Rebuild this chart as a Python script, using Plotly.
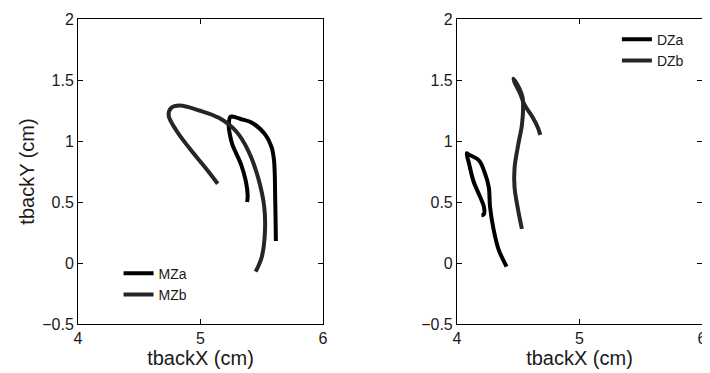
import plotly.graph_objects as go

# Left panel data (cm)
mza_x = [5.615, 5.61, 5.60, 5.58, 5.53, 5.42, 5.33, 5.26, 5.245, 5.23, 5.24, 5.26, 5.33, 5.37, 5.385, 5.38]
mza_y = [0.18, 0.50, 0.84, 0.95, 1.05, 1.15, 1.18, 1.20, 1.20, 1.13, 1.05, 0.97, 0.81, 0.67, 0.55, 0.50]
mzb_x = [5.14, 5.04, 4.91, 4.80, 4.74, 4.76, 4.83, 4.99, 5.15, 5.29, 5.39, 5.47, 5.52, 5.525, 5.50, 5.45]
mzb_y = [0.65, 0.78, 0.94, 1.09, 1.21, 1.27, 1.29, 1.25, 1.19, 1.08, 0.92, 0.70, 0.46, 0.24, 0.05, -0.07]

# Right panel data (cm)
dza_x = [4.405, 4.34, 4.30, 4.27, 4.26, 4.23, 4.18, 4.095, 4.08, 4.10, 4.135, 4.19, 4.22, 4.22, 4.20]
dza_y = [-0.03, 0.11, 0.27, 0.46, 0.62, 0.73, 0.84, 0.89, 0.90, 0.81, 0.67, 0.54, 0.46, 0.40, 0.39]
dzb_x = [4.53, 4.50, 4.47, 4.47, 4.50, 4.53, 4.54, 4.535, 4.505, 4.46, 4.475, 4.515, 4.55, 4.62, 4.66, 4.68]
dzb_y = [0.28, 0.43, 0.62, 0.78, 0.97, 1.13, 1.27, 1.36, 1.44, 1.51, 1.47, 1.39, 1.30, 1.19, 1.11, 1.05]

x_ticks = [4, 5, 6]
y_ticks = [-0.5, 0, 0.5, 1, 1.5, 2]

FONT = "Liberation Sans, Arial, Helvetica, sans-serif"
TXT = "#1a1a1a"
C_A = "#000000"
C_B = "#262626"
LW = 4

fig = go.Figure()
fig.add_trace(go.Scatter(x=mza_x, y=mza_y, mode="lines", name="MZa",
                         line=dict(color=C_A, width=LW, shape="spline"),
                         xaxis="x", yaxis="y", legend="legend"))
fig.add_trace(go.Scatter(x=mzb_x, y=mzb_y, mode="lines", name="MZb",
                         line=dict(color=C_B, width=LW, shape="spline"),
                         xaxis="x", yaxis="y", legend="legend"))
fig.add_trace(go.Scatter(x=dza_x, y=dza_y, mode="lines", name="DZa",
                         line=dict(color=C_A, width=LW, shape="spline"),
                         xaxis="x2", yaxis="y2", legend="legend2"))
fig.add_trace(go.Scatter(x=dzb_x, y=dzb_y, mode="lines", name="DZb",
                         line=dict(color=C_B, width=LW, shape="spline"),
                         xaxis="x2", yaxis="y2", legend="legend2"))

ax_common = dict(showline=True, linecolor="black", linewidth=1, mirror="ticks",
                 ticks="inside", ticklen=5, tickcolor="black", showgrid=False,
                 zeroline=False, tickfont=dict(size=16, color=TXT),
                 ticklabeloverflow="allow")

# The page body has an 8px default margin, so the figure is sized to fit.
fig.update_layout(
    width=702, height=365,
    margin=dict(l=70, r=3, t=8, b=49),
    paper_bgcolor="white", plot_bgcolor="white",
    font=dict(family=FONT, color=TXT),
    xaxis=dict(domain=[0, 0.3927], range=[4, 6], tickvals=x_ticks,
               title=dict(text="tbackX (cm)", font=dict(size=20), standoff=3), **ax_common),
    yaxis=dict(domain=[0, 1], range=[-0.5, 2], tickvals=y_ticks,
               title=dict(text="tbackY (cm)", font=dict(size=20), standoff=2), **ax_common),
    xaxis2=dict(domain=[0.6073, 1], range=[4, 6], tickvals=x_ticks, anchor="y2",
                title=dict(text="tbackX (cm)", font=dict(size=20), standoff=3), **ax_common),
    yaxis2=dict(domain=[0, 1], range=[-0.5, 2], tickvals=y_ticks, anchor="x2", **ax_common),
    legend=dict(x=0.065, y=0.2175, xanchor="left", yanchor="top", bgcolor="rgba(0,0,0,0)",
                font=dict(size=14), tracegroupgap=0, itemwidth=30),
    legend2=dict(x=0.979, y=0.985, xanchor="right", yanchor="top", bgcolor="rgba(0,0,0,0)",
                 font=dict(size=14), tracegroupgap=0, itemwidth=30),
)

fig.write_html("out.html")
